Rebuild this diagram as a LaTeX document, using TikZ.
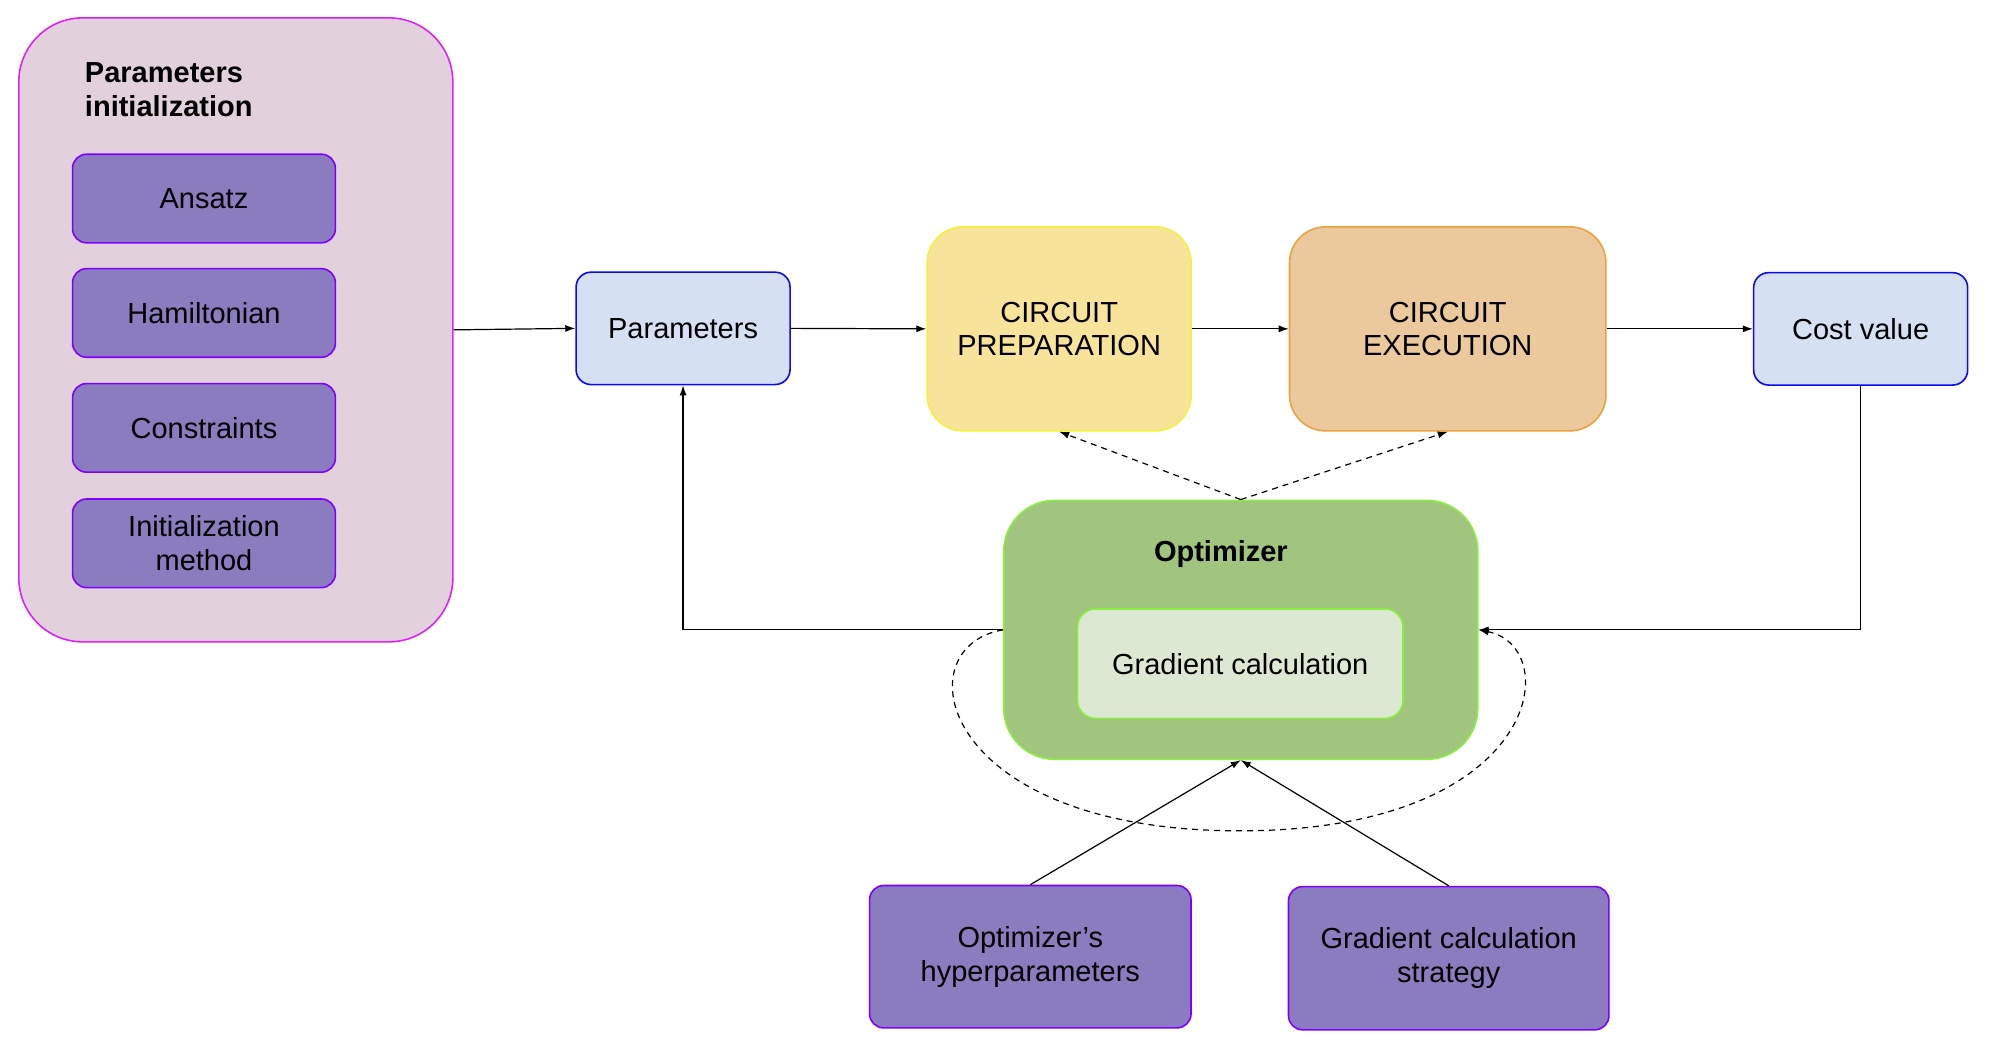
\documentclass[tikz,border=0pt]{standalone}
\usepackage{fontspec}
\setmainfont{Liberation Sans}
\usetikzlibrary{arrows.meta,positioning}
\definecolor{pinkfill}{HTML}{E2D1DC}
\definecolor{pinkdraw}{HTML}{DD22F5}
\definecolor{purpfill}{HTML}{8A7CBF}
\definecolor{purpdraw}{HTML}{8000FF}
\definecolor{bluefill}{HTML}{D5E1F3}
\definecolor{bluedraw}{HTML}{0A0AF5}
\definecolor{yelfill}{HTML}{F7E49A}
\definecolor{yeldraw}{HTML}{F5F03A}
\definecolor{orfill}{HTML}{EBC99C}
\definecolor{ordraw}{HTML}{E8A33D}
\definecolor{grfill}{HTML}{A1C47F}
\definecolor{grdraw}{HTML}{88F040}
\definecolor{lgrfill}{HTML}{DDE8D3}
\begin{document}
\begin{tikzpicture}[x=0.4975pt,y=-0.4975pt,
  every node/.style={font=\fontsize{14.5pt}{16.8pt}\selectfont, text=black},
  box/.style={draw, line width=0.8pt, align=center, inner sep=0pt},
  purpbox/.style={box, fill=purpfill, draw=purpdraw, rounded corners=7pt},
  bluebox/.style={box, fill=bluefill, draw=bluedraw, rounded corners=7.5pt, minimum width=107pt, minimum height=56.2pt},
  conn/.style={line width=0.6pt, -{Latex[length=5pt,width=3.5pt]}},
  dconn/.style={conn, dashed, dash pattern=on 3pt off 2.5pt}
]
\useasboundingbox (0,0) rectangle (2010.05,1060.3);

% Parameters initialization group
\node[box, fill=pinkfill, draw=pinkdraw, rounded corners=32pt, minimum width=217pt, minimum height=312pt] (init) at (237,331.5) {};
\node[anchor=west, align=left, inner sep=0pt, font=\fontsize{14.5pt}{16.8pt}\selectfont\bfseries] (inittitle) at (85,90) {Parameters\\initialization};
\node[purpbox, minimum width=131.4pt, minimum height=44.3pt] (ansatz) at (205,199.5) {Ansatz};
\node[purpbox, minimum width=131.4pt, minimum height=44.3pt] (hamil) at (205,314.5) {Hamiltonian};
\node[purpbox, minimum width=131.4pt, minimum height=44.3pt] (constr) at (205,430) {Constraints};
\node[purpbox, minimum width=131.4pt, minimum height=44.3pt] (imethod) at (205,546) {Initialization\\method};

% main chain
\node[bluebox] (params) at (686.5,330) {Parameters};
\node[box, fill=yelfill, draw=yeldraw, rounded corners=18pt, minimum width=132pt, minimum height=102pt] (prep) at (1064.5,330.5) {CIRCUIT\\PREPARATION};
\node[box, fill=orfill, draw=ordraw, rounded corners=18pt, minimum width=158.2pt, minimum height=102pt] (exec) at (1455,330.5) {CIRCUIT\\EXECUTION};
\node[bluebox] (cost) at (1870,330.5) {Cost value};

% optimizer
\node[box, fill=grfill, draw=grdraw, rounded corners=25.5pt, minimum width=237pt, minimum height=129.5pt] (opt) at (1247,633) {};
\node[font=\fontsize{14.5pt}{16.8pt}\selectfont\bfseries] (opttitle) at (1227,557) {Optimizer};
\node[box, fill=lgrfill, draw=grdraw, rounded corners=9pt, minimum width=162.7pt, minimum height=54.7pt] (grad) at (1246.5,667) {Gradient calculation};

% bottom inputs
\node[purpbox, minimum width=160.7pt, minimum height=71.2pt] (hyper) at (1035.5,961.5) {Optimizer’s\\hyperparameters};
\node[purpbox, minimum width=160.2pt, minimum height=71.6pt] (strat) at (1456,963) {Gradient calculation\\strategy};

% connectors
\draw[conn] (init.east) -- (params.west);
\draw[conn] (params.east) -- (prep.west);
\draw[conn] (prep.east) -- (exec.west);
\draw[conn] (exec.east) -- (cost.west);
\draw[conn] (cost.south) |- (opt.east);
\draw[conn] (opt.west) -| (params.south);
\draw[dconn] (opt.north) -- (prep.south);
\draw[dconn] (opt.north) -- (exec.south);
\draw[conn] (hyper.north) -- (opt.south);
\draw[conn] (strat.north) -- (opt.south);
\draw[dconn] (opt.west) .. controls (907,650) and (942,835) .. (1246,835)
  .. controls (1550,835) and (1573,650) .. (opt.east);
\end{tikzpicture}
\end{document}
